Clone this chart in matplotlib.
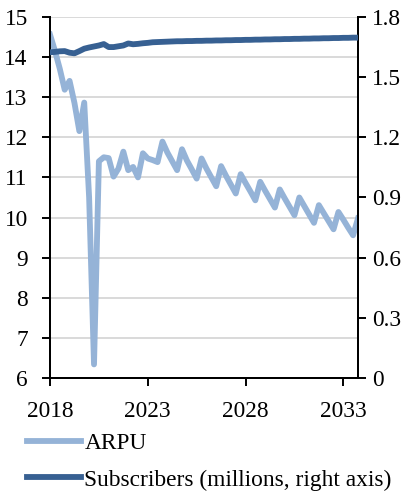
import pandas as pd
import matplotlib
matplotlib.use("Agg")
import matplotlib.pyplot as plt

# quarterly data, 2018Q1 .. 2033Q4
quarters = pd.period_range("2018Q1", "2033Q4", freq="Q")

arpu = [14.55, 14.15, 13.70, 13.18, 13.40, 12.85, 12.15, 12.86,
        10.50, 6.35, 11.40, 11.50, 11.48, 11.02, 11.22, 11.64,
        11.18, 11.26, 11.00, 11.60, 11.47, 11.43, 11.38, 11.89,
        11.62, 11.40, 11.18, 11.70, 11.42, 11.20, 10.97, 11.47,
        11.22, 11.00, 10.78, 11.28, 11.04, 10.82, 10.60, 11.08,
        10.86, 10.65, 10.43, 10.89, 10.67, 10.46, 10.25, 10.70,
        10.48, 10.27, 10.06, 10.50, 10.29, 10.08, 9.87, 10.31,
        10.11, 9.91, 9.71, 10.14, 9.95, 9.75, 9.56, 9.98]

subscribers = [1.622, 1.624, 1.627, 1.628, 1.620, 1.617, 1.628, 1.640,
               1.646, 1.651, 1.656, 1.663, 1.648, 1.648, 1.652, 1.656,
               1.666, 1.662, 1.664, 1.667, 1.669, 1.672, 1.673, 1.674,
               1.675, 1.676, 1.677, 1.677, 1.678, 1.678, 1.679, 1.679,
               1.680, 1.680, 1.681, 1.681, 1.682, 1.682, 1.683, 1.683,
               1.684, 1.684, 1.685, 1.685, 1.686, 1.686, 1.687, 1.687,
               1.688, 1.688, 1.689, 1.689, 1.690, 1.690, 1.691, 1.691,
               1.692, 1.692, 1.693, 1.693, 1.694, 1.694, 1.695, 1.695]

left_ticks = [6, 7, 8, 9, 10, 11, 12, 13, 14, 15]
right_ticks = [0, 0.3, 0.6, 0.9, 1.2, 1.5, 1.8]
right_labels = ["0", "0.3", "0.6", "0.9", "1.2", "1.5", "1.8"]
year_ticks = [2018, 2023, 2028, 2033]

x = [q.year + (q.quarter - 1) / 4 for q in quarters]

plt.rcParams["font.family"] = ["Liberation Serif", "DejaVu Serif"]
fs = 16.8

fig = plt.figure(figsize=(4.11, 4.93), dpi=100)
ax = fig.add_axes([0.1217, 0.2323, 0.7493, 0.7342])
ax2 = ax.twinx()

ax.plot(x, arpu, color="#95b3d7", lw=4.2, solid_joinstyle="round",
        label="ARPU", zorder=3)
ax2.plot(x, subscribers, color="#376092", lw=4.2, solid_joinstyle="round",
         label="Subscribers (millions, right axis)", zorder=3)

ax.set_xlim(2018, 2033.75)
ax.set_ylim(6, 15)
ax2.set_ylim(0, 1.8)
ax.set_xticks(year_ticks)
ax.set_yticks(left_ticks)
ax2.set_yticks(right_ticks)
ax2.set_yticklabels(right_labels)

ax.grid(axis="y", color="#d9d9d9", lw=1.4)
ax.set_axisbelow(True)

for a in (ax, ax2):
    a.spines["top"].set_visible(False)
    for s in ("left", "right", "bottom"):
        a.spines[s].set_linewidth(1.4)
    a.tick_params(direction="out", length=6, width=1.4, labelsize=fs, pad=4)
ax.tick_params(axis="y", pad=10)
ax.tick_params(axis="x", pad=10)

fig.legend(handles=ax.get_lines() + ax2.get_lines(), loc="upper left",
           bbox_to_anchor=(0.066, 0.123), frameon=False, fontsize=fs,
           handlelength=2.3, handletextpad=0.15, labelspacing=0.67,
           borderaxespad=0, borderpad=0)

fig.savefig("out.png", dpi=100)
